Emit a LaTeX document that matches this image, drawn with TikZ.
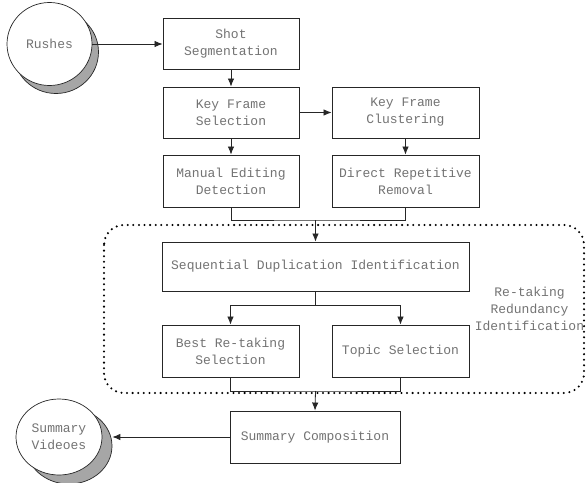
\documentclass[tikz,border=0pt]{standalone}
\usepackage{fontspec}
\setmonofont{Liberation Mono}
\usetikzlibrary{shapes.geometric,arrows.meta}

\begin{document}
\begin{tikzpicture}[x=1pt,y=-1pt,>={Latex[length=8pt,width=6.5pt]},
    every node/.style={font=\ttfamily\fontsize{13}{17}\selectfont,text=black!55,align=center},
    blk/.style={draw=black!85,line width=0.9pt,fill=white,minimum width=136pt,minimum height=51pt,inner sep=0pt},
    media/.style={ellipse,draw=black!85,line width=0.7pt,fill=white,inner sep=0pt},
    mshadow/.style={media,fill=black!35},
    link/.style={draw=black!85,line width=0.8pt},
    dotbox/.style={draw=black,line width=2.3pt,dash pattern=on 0pt off 5.6pt,line cap=round,rounded corners=20pt}]
    \useasboundingbox (0,0) rectangle (586,482);
    \draw[dotbox](104,225) rectangle (584,393);
    \node(retake) at (529.5,309){Re-taking\\Redundancy\\Identification};
    \node[mshadow,minimum width=85pt,minimum height=83pt](rushes shadow) at (56,52){};
    \node[media,minimum width=85pt,minimum height=83pt](rushes) at (49.5,44){Rushes};
    \node[mshadow,minimum width=86pt,minimum height=76pt](videos shadow) at (69,446){};
    \node[media,minimum width=86pt,minimum height=76pt](videos) at (59,437){Summary\\Videoes};
    \node[blk](shot) at (231,44){Shot\\Segmentation};
    \node[blk](kfsel) at (231,112.5){Key Frame\\Selection};
    \node[blk,minimum width=147pt](kfclu) at (405.5,112.5){Key Frame\\Clustering};
    \node[blk,minimum height=52pt](manual) at (231,181){Manual Editing\\Detection};
    \node[blk,minimum width=147pt,minimum height=52pt](direct) at (405.5,181){Direct Repetitive\\Removal};
    \node[blk,minimum width=307pt,minimum height=49pt](seq) at (315.5,266.5){Sequential Duplication Identification};
    \node[blk,minimum width=137pt,minimum height=52pt](best) at (230.5,351){Best Re-taking\\Selection};
    \node[blk,minimum width=137pt,minimum height=52pt](topic) at (400.5,351){Topic Selection};
    \node[blk,minimum width=170pt,minimum height=52pt](summ) at (315,437){Summary Composition};
    \coordinate(merge1) at (315.5,220);
    \coordinate(split) at (315.5,305);
    \coordinate(merge2) at (315.5,391);
    \draw[link,->](rushes.east)--(shot.west);
    \draw[link,->](shot)--(kfsel);
    \draw[link,->](kfsel)--(kfclu);
    \draw[link,->](kfsel)--(manual);
    \draw[link,->](kfclu)--(direct);
    \draw[link](manual.south)|-(merge1)-|(direct.south);
    \draw[link,->](merge1)--(seq.north);
    \draw[link](seq.south)--(split);
    \draw[link,->](split)-|(best.north);
    \draw[link,->](split)-|(topic.north);
    \draw[link](best.south)|-(merge2)-|(topic.south);
    \draw[link,->](merge2)--(summ.north);
    \draw[link,->](summ.west)--(summ.west-|videos shadow.east);
\end{tikzpicture}
\end{document}
